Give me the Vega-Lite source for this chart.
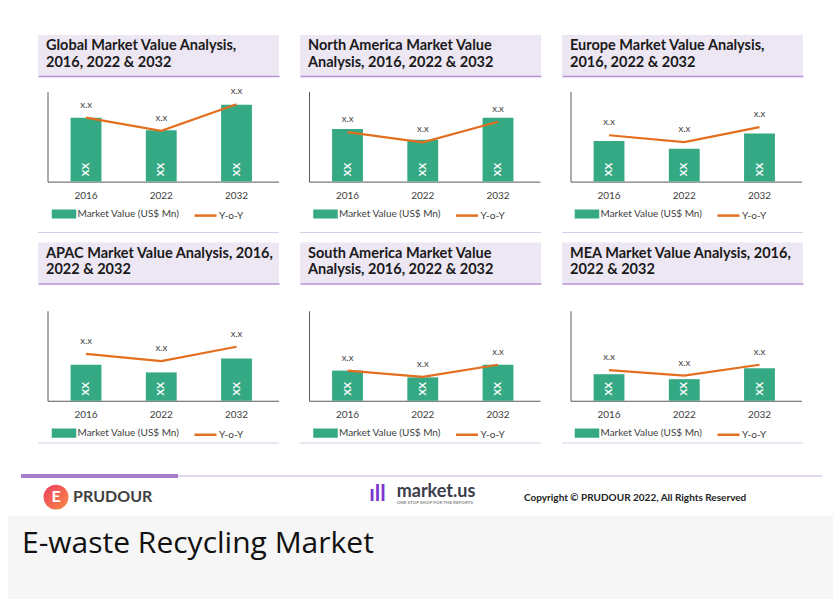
{
  "$schema": "https://vega.github.io/schema/vega-lite/v6.json",
  "background": "white",
  "padding": {"left": 8, "top": 35, "right": 3, "bottom": 1},
  "config": {"font": "Lato", "view": {"stroke": null}},
  "datasets": {
    "market": [
      {"region": "Global", "year": "2016", "value": 71, "yoy": 71, "valueLabel": "XX", "yoyLabel": "x.x"},
      {"region": "Global", "year": "2022", "value": 57, "yoy": 56.5, "valueLabel": "XX", "yoyLabel": "x.x"},
      {"region": "Global", "year": "2032", "value": 85.5, "yoy": 86, "valueLabel": "XX", "yoyLabel": "x.x"},
      {"region": "North America", "year": "2016", "value": 58.5, "yoy": 55, "valueLabel": "XX", "yoyLabel": "x.x"},
      {"region": "North America", "year": "2022", "value": 46.5, "yoy": 43.5, "valueLabel": "XX", "yoyLabel": "x.x"},
      {"region": "North America", "year": "2032", "value": 71, "yoy": 66.5, "valueLabel": "XX", "yoyLabel": "x.x"},
      {"region": "Europe", "year": "2016", "value": 45, "yoy": 51.5, "valueLabel": "XX", "yoyLabel": "x.x"},
      {"region": "Europe", "year": "2022", "value": 36.5, "yoy": 44, "valueLabel": "XX", "yoyLabel": "x.x"},
      {"region": "Europe", "year": "2032", "value": 53.5, "yoy": 60.5, "valueLabel": "XX", "yoyLabel": "x.x"},
      {"region": "APAC", "year": "2016", "value": 40, "yoy": 52, "valueLabel": "XX", "yoyLabel": "x.x"},
      {"region": "APAC", "year": "2022", "value": 31.5, "yoy": 44, "valueLabel": "XX", "yoyLabel": "x.x"},
      {"region": "APAC", "year": "2032", "value": 47, "yoy": 60, "valueLabel": "XX", "yoyLabel": "x.x"},
      {"region": "South America", "year": "2016", "value": 33.5, "yoy": 33.5, "valueLabel": "XX", "yoyLabel": "x.x"},
      {"region": "South America", "year": "2022", "value": 26, "yoy": 26.5, "valueLabel": "XX", "yoyLabel": "x.x"},
      {"region": "South America", "year": "2032", "value": 40, "yoy": 40, "valueLabel": "XX", "yoyLabel": "x.x"},
      {"region": "MEA", "year": "2016", "value": 29.5, "yoy": 34, "valueLabel": "XX", "yoyLabel": "x.x"},
      {"region": "MEA", "year": "2022", "value": 24, "yoy": 28, "valueLabel": "XX", "yoyLabel": "x.x"},
      {"region": "MEA", "year": "2032", "value": 36, "yoy": 40, "valueLabel": "XX", "yoyLabel": "x.x"}
    ],
    "panels": [
      {"region": "Global", "title": "Global Market Value Analysis,\n2016, 2022 & 2032"},
      {"region": "North America", "title": "North America Market Value\nAnalysis, 2016, 2022 & 2032"},
      {"region": "Europe", "title": "Europe Market Value Analysis,\n2016, 2022 & 2032"},
      {"region": "APAC", "title": "APAC Market Value Analysis, 2016,\n2022 & 2032"},
      {"region": "South America", "title": "South America Market Value\nAnalysis, 2016, 2022 & 2032"},
      {"region": "MEA", "title": "MEA Market Value Analysis, 2016,\n2022 & 2032"}
    ]
  },
  "spacing": 0,
  "vconcat": [
    {
      "spacing": 30,
      "vconcat": [
        {
          "spacing": 9.5,
          "vconcat": [
            {
              "spacing": 9,
              "vconcat": [
                {
                  "spacing": 9.6,
                  "vconcat": [
                    {
                      "bounds": "flush", "spacing": 21,
                      "hconcat": [
                        {"width": 9, "height": 1, "data": {"values": []}, "mark": "point"},
                        {"width": 241, "height": 41, "view": {"fill": "#ede6f3", "stroke": null}, "data": {"name": "panels"}, "transform": [{"filter": "datum.region === 'Global'"}],
                          "mark": {"type": "text", "align": "left", "baseline": "middle", "lineBreak": "\n", "lineHeight": 16.5, "fontWeight": "bold", "fontSize": 14.5, "color": "#1a1a1a", "dx": 8, "dy": -9.5},
                          "encoding": {"x": {"datum": 0, "type": "quantitative", "scale": {"domain": [0, 1]}, "axis": {"orient": "bottom", "title": null, "labels": false, "ticks": false, "grid": false, "domainColor": "#b592d4", "domainWidth": 1.5}}, "text": {"field": "title"}}},
                        {"width": 241, "height": 41, "view": {"fill": "#ede6f3", "stroke": null}, "data": {"name": "panels"}, "transform": [{"filter": "datum.region === 'North America'"}],
                          "mark": {"type": "text", "align": "left", "baseline": "middle", "lineBreak": "\n", "lineHeight": 16.5, "fontWeight": "bold", "fontSize": 14.5, "color": "#1a1a1a", "dx": 8, "dy": -9.5},
                          "encoding": {"x": {"datum": 0, "type": "quantitative", "scale": {"domain": [0, 1]}, "axis": {"orient": "bottom", "title": null, "labels": false, "ticks": false, "grid": false, "domainColor": "#b592d4", "domainWidth": 1.5}}, "text": {"field": "title"}}},
                        {"width": 241, "height": 41, "view": {"fill": "#ede6f3", "stroke": null}, "data": {"name": "panels"}, "transform": [{"filter": "datum.region === 'Europe'"}],
                          "mark": {"type": "text", "align": "left", "baseline": "middle", "lineBreak": "\n", "lineHeight": 16.5, "fontWeight": "bold", "fontSize": 14.5, "color": "#1a1a1a", "dx": 8, "dy": -9.5},
                          "encoding": {"x": {"datum": 0, "type": "quantitative", "scale": {"domain": [0, 1]}, "axis": {"orient": "bottom", "title": null, "labels": false, "ticks": false, "grid": false, "domainColor": "#b592d4", "domainWidth": 1.5}}, "text": {"field": "title"}}}
                      ]
                    },
                    {
                      "bounds": "flush", "spacing": 30.5,
                      "resolve": {"scale": {"color": "independent"}, "legend": {"color": "independent"}},
                      "hconcat": [
                        {"width": 8.5, "height": 1, "data": {"values": []}, "mark": "point"},
                        {"width": 231, "height": 90, "data": {"name": "market"}, "transform": [{"filter": "datum.region === 'Global'"}],
                          "encoding": {"x": {"field": "year", "type": "ordinal", "scale": {"paddingInner": 0.59, "paddingOuter": 0.33, "align": 0.465}, "axis": {"title": null, "labelAngle": 0, "ticks": false, "tickSize": 0, "labelPadding": 9, "labelFontSize": 10, "labelColor": "#404040", "domainColor": "#595959"}}},
                          "layer": [
                            {"mark": {"type": "bar"}, "encoding": {"y": {"field": "value", "type": "quantitative", "scale": {"domain": [0, 100]}, "axis": {"title": null, "labels": false, "ticks": false, "grid": false, "domainColor": "#595959"}},
                              "color": {"datum": "Market Value (US$ Mn)", "scale": {"domain": ["Market Value (US$ Mn)", "Y-o-Y"], "range": ["#35a884", "#e36f1e"]},
                                "legend": {"orient": "none", "legendX": 9.5, "legendY": 115, "direction": "horizontal", "title": null, "labelFontSize": 10, "labelColor": "#404040", "symbolSize": 121, "labelOffset": 6.5, "columnPadding": 9.5, "padding": 0,
                                  "encode": {"symbols": {"update": {"shape": {"signal": "datum.value === 'Y-o-Y' ? 'M-2,0H2' : 'M-2,-0.6H2V0.6H-2Z'"}, "fill": {"signal": "datum.value === 'Y-o-Y' ? 'transparent' : '#35a884'"}, "stroke": {"signal": "datum.value === 'Y-o-Y' ? '#e36f1e' : 'transparent'"}, "strokeWidth": {"value": 2.5}, "opacity": {"value": 1}}}}}}}},
                            {"mark": {"type": "text", "angle": 270, "dx": 12, "color": "white", "fontWeight": "bold", "fontSize": 10, "baseline": "middle", "align": "center"}, "encoding": {"y": {"datum": 0}, "text": {"field": "valueLabel"}}},
                            {"mark": {"type": "line", "strokeWidth": 2.25}, "encoding": {"y": {"field": "yoy", "type": "quantitative"}, "color": {"datum": "Y-o-Y"}}},
                            {"mark": {"type": "text", "dy": -13, "fontSize": 9.5, "color": "#404040"}, "encoding": {"y": {"field": "yoy", "type": "quantitative"}, "text": {"field": "yoyLabel"}}}
                          ]},
                        {"width": 231, "height": 90, "data": {"name": "market"}, "transform": [{"filter": "datum.region === 'North America'"}],
                          "encoding": {"x": {"field": "year", "type": "ordinal", "scale": {"paddingInner": 0.59, "paddingOuter": 0.33, "align": 0.465}, "axis": {"title": null, "labelAngle": 0, "ticks": false, "tickSize": 0, "labelPadding": 9, "labelFontSize": 10, "labelColor": "#404040", "domainColor": "#595959"}}},
                          "layer": [
                            {"mark": {"type": "bar"}, "encoding": {"y": {"field": "value", "type": "quantitative", "scale": {"domain": [0, 100]}, "axis": {"title": null, "labels": false, "ticks": false, "grid": false, "domainColor": "#595959"}},
                              "color": {"datum": "Market Value (US$ Mn)", "scale": {"domain": ["Market Value (US$ Mn)", "Y-o-Y"], "range": ["#35a884", "#e36f1e"]},
                                "legend": {"orient": "none", "legendX": 9.5, "legendY": 115, "direction": "horizontal", "title": null, "labelFontSize": 10, "labelColor": "#404040", "symbolSize": 121, "labelOffset": 6.5, "columnPadding": 9.5, "padding": 0,
                                  "encode": {"symbols": {"update": {"shape": {"signal": "datum.value === 'Y-o-Y' ? 'M-2,0H2' : 'M-2,-0.6H2V0.6H-2Z'"}, "fill": {"signal": "datum.value === 'Y-o-Y' ? 'transparent' : '#35a884'"}, "stroke": {"signal": "datum.value === 'Y-o-Y' ? '#e36f1e' : 'transparent'"}, "strokeWidth": {"value": 2.5}, "opacity": {"value": 1}}}}}}}},
                            {"mark": {"type": "text", "angle": 270, "dx": 12, "color": "white", "fontWeight": "bold", "fontSize": 10, "baseline": "middle", "align": "center"}, "encoding": {"y": {"datum": 0}, "text": {"field": "valueLabel"}}},
                            {"mark": {"type": "line", "strokeWidth": 2.25}, "encoding": {"y": {"field": "yoy", "type": "quantitative"}, "color": {"datum": "Y-o-Y"}}},
                            {"mark": {"type": "text", "dy": -13, "fontSize": 9.5, "color": "#404040"}, "encoding": {"y": {"field": "yoy", "type": "quantitative"}, "text": {"field": "yoyLabel"}}}
                          ]},
                        {"width": 231, "height": 90, "data": {"name": "market"}, "transform": [{"filter": "datum.region === 'Europe'"}],
                          "encoding": {"x": {"field": "year", "type": "ordinal", "scale": {"paddingInner": 0.59, "paddingOuter": 0.33, "align": 0.465}, "axis": {"title": null, "labelAngle": 0, "ticks": false, "tickSize": 0, "labelPadding": 9, "labelFontSize": 10, "labelColor": "#404040", "domainColor": "#595959"}}},
                          "layer": [
                            {"mark": {"type": "bar"}, "encoding": {"y": {"field": "value", "type": "quantitative", "scale": {"domain": [0, 100]}, "axis": {"title": null, "labels": false, "ticks": false, "grid": false, "domainColor": "#595959"}},
                              "color": {"datum": "Market Value (US$ Mn)", "scale": {"domain": ["Market Value (US$ Mn)", "Y-o-Y"], "range": ["#35a884", "#e36f1e"]},
                                "legend": {"orient": "none", "legendX": 9.5, "legendY": 115, "direction": "horizontal", "title": null, "labelFontSize": 10, "labelColor": "#404040", "symbolSize": 121, "labelOffset": 6.5, "columnPadding": 9.5, "padding": 0,
                                  "encode": {"symbols": {"update": {"shape": {"signal": "datum.value === 'Y-o-Y' ? 'M-2,0H2' : 'M-2,-0.6H2V0.6H-2Z'"}, "fill": {"signal": "datum.value === 'Y-o-Y' ? 'transparent' : '#35a884'"}, "stroke": {"signal": "datum.value === 'Y-o-Y' ? '#e36f1e' : 'transparent'"}, "strokeWidth": {"value": 2.5}, "opacity": {"value": 1}}}}}}}},
                            {"mark": {"type": "text", "angle": 270, "dx": 12, "color": "white", "fontWeight": "bold", "fontSize": 10, "baseline": "middle", "align": "center"}, "encoding": {"y": {"datum": 0}, "text": {"field": "valueLabel"}}},
                            {"mark": {"type": "line", "strokeWidth": 2.25}, "encoding": {"y": {"field": "yoy", "type": "quantitative"}, "color": {"datum": "Y-o-Y"}}},
                            {"mark": {"type": "text", "dy": -13, "fontSize": 9.5, "color": "#404040"}, "encoding": {"y": {"field": "yoy", "type": "quantitative"}, "text": {"field": "yoyLabel"}}}
                          ]}
                      ]
                    }
                  ]
                },
                {
                  "bounds": "flush", "spacing": 21,
                  "hconcat": [
                    {"width": 9, "height": 1, "data": {"values": []}, "mark": "point"},
                    {"width": 241, "height": 1, "view": {"fill": "#dccbe8", "stroke": null}, "data": {"values": []}, "mark": "point"},
                    {"width": 241, "height": 1, "view": {"fill": "#dccbe8", "stroke": null}, "data": {"values": []}, "mark": "point"},
                    {"width": 241, "height": 1, "view": {"fill": "#dccbe8", "stroke": null}, "data": {"values": []}, "mark": "point"}
                  ]
                }
              ]
            },
            {
              "spacing": -2,
              "vconcat": [
                {
                  "spacing": 27.25,
                  "vconcat": [
                    {
                      "bounds": "flush", "spacing": 21,
                      "hconcat": [
                        {"width": 9, "height": 1, "data": {"values": []}, "mark": "point"},
                        {"width": 241, "height": 41, "view": {"fill": "#ede6f3", "stroke": null}, "data": {"name": "panels"}, "transform": [{"filter": "datum.region === 'APAC'"}],
                          "mark": {"type": "text", "align": "left", "baseline": "middle", "lineBreak": "\n", "lineHeight": 16.5, "fontWeight": "bold", "fontSize": 14.5, "color": "#1a1a1a", "dx": 8, "dy": -9.5},
                          "encoding": {"x": {"datum": 0, "type": "quantitative", "scale": {"domain": [0, 1]}, "axis": {"orient": "bottom", "title": null, "labels": false, "ticks": false, "grid": false, "domainColor": "#b592d4", "domainWidth": 1.5}}, "text": {"field": "title"}}},
                        {"width": 241, "height": 41, "view": {"fill": "#ede6f3", "stroke": null}, "data": {"name": "panels"}, "transform": [{"filter": "datum.region === 'South America'"}],
                          "mark": {"type": "text", "align": "left", "baseline": "middle", "lineBreak": "\n", "lineHeight": 16.5, "fontWeight": "bold", "fontSize": 14.5, "color": "#1a1a1a", "dx": 8, "dy": -9.5},
                          "encoding": {"x": {"datum": 0, "type": "quantitative", "scale": {"domain": [0, 1]}, "axis": {"orient": "bottom", "title": null, "labels": false, "ticks": false, "grid": false, "domainColor": "#b592d4", "domainWidth": 1.5}}, "text": {"field": "title"}}},
                        {"width": 241, "height": 41, "view": {"fill": "#ede6f3", "stroke": null}, "data": {"name": "panels"}, "transform": [{"filter": "datum.region === 'MEA'"}],
                          "mark": {"type": "text", "align": "left", "baseline": "middle", "lineBreak": "\n", "lineHeight": 16.5, "fontWeight": "bold", "fontSize": 14.5, "color": "#1a1a1a", "dx": 8, "dy": -9.5},
                          "encoding": {"x": {"datum": 0, "type": "quantitative", "scale": {"domain": [0, 1]}, "axis": {"orient": "bottom", "title": null, "labels": false, "ticks": false, "grid": false, "domainColor": "#b592d4", "domainWidth": 1.5}}, "text": {"field": "title"}}}
                      ]
                    },
                    {
                      "bounds": "flush", "spacing": 30.5,
                      "resolve": {"scale": {"color": "independent"}, "legend": {"color": "independent"}},
                      "hconcat": [
                        {"width": 8.5, "height": 1, "data": {"values": []}, "mark": "point"},
                        {"width": 231, "height": 90, "data": {"name": "market"}, "transform": [{"filter": "datum.region === 'APAC'"}],
                          "encoding": {"x": {"field": "year", "type": "ordinal", "scale": {"paddingInner": 0.59, "paddingOuter": 0.33, "align": 0.465}, "axis": {"title": null, "labelAngle": 0, "ticks": false, "tickSize": 0, "labelPadding": 9, "labelFontSize": 10, "labelColor": "#404040", "domainColor": "#595959"}}},
                          "layer": [
                            {"mark": {"type": "bar"}, "encoding": {"y": {"field": "value", "type": "quantitative", "scale": {"domain": [0, 100]}, "axis": {"title": null, "labels": false, "ticks": false, "grid": false, "domainColor": "#595959"}},
                              "color": {"datum": "Market Value (US$ Mn)", "scale": {"domain": ["Market Value (US$ Mn)", "Y-o-Y"], "range": ["#35a884", "#e36f1e"]},
                                "legend": {"orient": "none", "legendX": 9.5, "legendY": 115, "direction": "horizontal", "title": null, "labelFontSize": 10, "labelColor": "#404040", "symbolSize": 121, "labelOffset": 6.5, "columnPadding": 9.5, "padding": 0,
                                  "encode": {"symbols": {"update": {"shape": {"signal": "datum.value === 'Y-o-Y' ? 'M-2,0H2' : 'M-2,-0.6H2V0.6H-2Z'"}, "fill": {"signal": "datum.value === 'Y-o-Y' ? 'transparent' : '#35a884'"}, "stroke": {"signal": "datum.value === 'Y-o-Y' ? '#e36f1e' : 'transparent'"}, "strokeWidth": {"value": 2.5}, "opacity": {"value": 1}}}}}}}},
                            {"mark": {"type": "text", "angle": 270, "dx": 12, "color": "white", "fontWeight": "bold", "fontSize": 10, "baseline": "middle", "align": "center"}, "encoding": {"y": {"datum": 0}, "text": {"field": "valueLabel"}}},
                            {"mark": {"type": "line", "strokeWidth": 2.25}, "encoding": {"y": {"field": "yoy", "type": "quantitative"}, "color": {"datum": "Y-o-Y"}}},
                            {"mark": {"type": "text", "dy": -13, "fontSize": 9.5, "color": "#404040"}, "encoding": {"y": {"field": "yoy", "type": "quantitative"}, "text": {"field": "yoyLabel"}}}
                          ]},
                        {"width": 231, "height": 90, "data": {"name": "market"}, "transform": [{"filter": "datum.region === 'South America'"}],
                          "encoding": {"x": {"field": "year", "type": "ordinal", "scale": {"paddingInner": 0.59, "paddingOuter": 0.33, "align": 0.465}, "axis": {"title": null, "labelAngle": 0, "ticks": false, "tickSize": 0, "labelPadding": 9, "labelFontSize": 10, "labelColor": "#404040", "domainColor": "#595959"}}},
                          "layer": [
                            {"mark": {"type": "bar"}, "encoding": {"y": {"field": "value", "type": "quantitative", "scale": {"domain": [0, 100]}, "axis": {"title": null, "labels": false, "ticks": false, "grid": false, "domainColor": "#595959"}},
                              "color": {"datum": "Market Value (US$ Mn)", "scale": {"domain": ["Market Value (US$ Mn)", "Y-o-Y"], "range": ["#35a884", "#e36f1e"]},
                                "legend": {"orient": "none", "legendX": 9.5, "legendY": 115, "direction": "horizontal", "title": null, "labelFontSize": 10, "labelColor": "#404040", "symbolSize": 121, "labelOffset": 6.5, "columnPadding": 9.5, "padding": 0,
                                  "encode": {"symbols": {"update": {"shape": {"signal": "datum.value === 'Y-o-Y' ? 'M-2,0H2' : 'M-2,-0.6H2V0.6H-2Z'"}, "fill": {"signal": "datum.value === 'Y-o-Y' ? 'transparent' : '#35a884'"}, "stroke": {"signal": "datum.value === 'Y-o-Y' ? '#e36f1e' : 'transparent'"}, "strokeWidth": {"value": 2.5}, "opacity": {"value": 1}}}}}}}},
                            {"mark": {"type": "text", "angle": 270, "dx": 12, "color": "white", "fontWeight": "bold", "fontSize": 10, "baseline": "middle", "align": "center"}, "encoding": {"y": {"datum": 0}, "text": {"field": "valueLabel"}}},
                            {"mark": {"type": "line", "strokeWidth": 2.25}, "encoding": {"y": {"field": "yoy", "type": "quantitative"}, "color": {"datum": "Y-o-Y"}}},
                            {"mark": {"type": "text", "dy": -13, "fontSize": 9.5, "color": "#404040"}, "encoding": {"y": {"field": "yoy", "type": "quantitative"}, "text": {"field": "yoyLabel"}}}
                          ]},
                        {"width": 231, "height": 90, "data": {"name": "market"}, "transform": [{"filter": "datum.region === 'MEA'"}],
                          "encoding": {"x": {"field": "year", "type": "ordinal", "scale": {"paddingInner": 0.59, "paddingOuter": 0.33, "align": 0.465}, "axis": {"title": null, "labelAngle": 0, "ticks": false, "tickSize": 0, "labelPadding": 9, "labelFontSize": 10, "labelColor": "#404040", "domainColor": "#595959"}}},
                          "layer": [
                            {"mark": {"type": "bar"}, "encoding": {"y": {"field": "value", "type": "quantitative", "scale": {"domain": [0, 100]}, "axis": {"title": null, "labels": false, "ticks": false, "grid": false, "domainColor": "#595959"}},
                              "color": {"datum": "Market Value (US$ Mn)", "scale": {"domain": ["Market Value (US$ Mn)", "Y-o-Y"], "range": ["#35a884", "#e36f1e"]},
                                "legend": {"orient": "none", "legendX": 9.5, "legendY": 115, "direction": "horizontal", "title": null, "labelFontSize": 10, "labelColor": "#404040", "symbolSize": 121, "labelOffset": 6.5, "columnPadding": 9.5, "padding": 0,
                                  "encode": {"symbols": {"update": {"shape": {"signal": "datum.value === 'Y-o-Y' ? 'M-2,0H2' : 'M-2,-0.6H2V0.6H-2Z'"}, "fill": {"signal": "datum.value === 'Y-o-Y' ? 'transparent' : '#35a884'"}, "stroke": {"signal": "datum.value === 'Y-o-Y' ? '#e36f1e' : 'transparent'"}, "strokeWidth": {"value": 2.5}, "opacity": {"value": 1}}}}}}}},
                            {"mark": {"type": "text", "angle": 270, "dx": 12, "color": "white", "fontWeight": "bold", "fontSize": 10, "baseline": "middle", "align": "center"}, "encoding": {"y": {"datum": 0}, "text": {"field": "valueLabel"}}},
                            {"mark": {"type": "line", "strokeWidth": 2.25}, "encoding": {"y": {"field": "yoy", "type": "quantitative"}, "color": {"datum": "Y-o-Y"}}},
                            {"mark": {"type": "text", "dy": -13, "fontSize": 9.5, "color": "#404040"}, "encoding": {"y": {"field": "yoy", "type": "quantitative"}, "text": {"field": "yoyLabel"}}}
                          ]}
                      ]
                    }
                  ]
                },
                {
                  "bounds": "flush", "spacing": 21,
                  "hconcat": [
                    {"width": 9, "height": 1, "data": {"values": []}, "mark": "point"},
                    {"width": 241, "height": 1, "view": {"fill": "#dccbe8", "stroke": null}, "data": {"values": []}, "mark": "point"},
                    {"width": 241, "height": 1, "view": {"fill": "#dccbe8", "stroke": null}, "data": {"values": []}, "mark": "point"},
                    {"width": 241, "height": 1, "view": {"fill": "#dccbe8", "stroke": null}, "data": {"values": []}, "mark": "point"}
                  ]
                }
              ]
            }
          ]
        },
        {
          "bounds": "flush", "spacing": 0,
          "hconcat": [
            {"width": 13, "height": 1, "data": {"values": []}, "mark": "point"},
            {"width": 801, "height": 42, "view": {"stroke": null}, "data": {"values": [{}]},
              "layer": [
                {"mark": {"type": "rule", "color": "#d9c8ea", "strokeWidth": 1.5}, "encoding": {"x": {"datum": 0, "type": "quantitative", "scale": {"domain": [0, 1]}, "axis": null}, "x2": {"datum": 1}, "y": {"datum": 0.952, "type": "quantitative", "scale": {"domain": [0, 1]}, "axis": null}}},
                {"mark": {"type": "rule", "color": "#a77dcc", "strokeWidth": 4}, "encoding": {"x": {"datum": 0, "type": "quantitative"}, "x2": {"datum": 0.196}, "y": {"datum": 0.952, "type": "quantitative"}}},
                {"mark": {"type": "point", "shape": "circle", "filled": true, "size": 620, "opacity": 1, "fill": {"gradient": "linear", "x1": 0, "y1": 0, "x2": 1, "y2": 1, "stops": [{"offset": 0, "color": "#ef3e62"}, {"offset": 1, "color": "#f88a45"}]}}, "encoding": {"x": {"datum": 0.0437, "type": "quantitative"}, "y": {"datum": 0.45, "type": "quantitative"}}},
                {"mark": {"type": "text", "text": "E", "color": "white", "fontWeight": "bold", "fontSize": 16, "align": "center", "baseline": "middle"}, "encoding": {"x": {"datum": 0.0437, "type": "quantitative"}, "y": {"datum": 0.45, "type": "quantitative"}}},
                {"mark": {"type": "text", "text": "PRUDOUR", "color": "#404040", "fontWeight": "bold", "fontSize": 16, "align": "left", "baseline": "middle"}, "encoding": {"x": {"datum": 0.065, "type": "quantitative"}, "y": {"datum": 0.45, "type": "quantitative"}}},
                {"mark": {"type": "text", "text": "ıll", "color": "#7b35d0", "fontWeight": "bold", "fontSize": 22, "align": "center", "baseline": "middle"}, "encoding": {"x": {"datum": 0.445, "type": "quantitative"}, "y": {"datum": 0.52, "type": "quantitative"}}},
                {"mark": {"type": "text", "text": "market.us", "color": "#3d3c4c", "fontWeight": "bold", "fontSize": 18, "align": "left", "baseline": "middle"}, "encoding": {"x": {"datum": 0.469, "type": "quantitative"}, "y": {"datum": 0.58, "type": "quantitative"}}},
                {"mark": {"type": "text", "text": "ONE STOP SHOP FOR THE REPORTS", "color": "#8a8a8a", "fontWeight": "bold", "fontSize": 4.5, "align": "left", "baseline": "middle"}, "encoding": {"x": {"datum": 0.469, "type": "quantitative"}, "y": {"datum": 0.3, "type": "quantitative"}}},
                {"mark": {"type": "text", "text": "Copyright © PRUDOUR 2022, All Rights Reserved", "color": "#222222", "fontWeight": "bold", "fontSize": 10, "align": "left", "baseline": "middle"}, "encoding": {"x": {"datum": 0.628, "type": "quantitative"}, "y": {"datum": 0.43, "type": "quantitative"}}}
              ]}
          ]
        }
      ]
    },
    {"width": 825, "height": 83, "view": {"fill": "#f6f6f6", "stroke": null}, "data": {"values": [{}]},
      "mark": {"type": "text", "text": "E-waste Recycling Market", "font": "Open Sans", "fontSize": 30, "align": "left", "baseline": "alphabetic", "dx": 14, "dy": -4.5, "color": "#111111"},
      "encoding": {"x": {"datum": 0, "type": "quantitative", "scale": {"domain": [0, 1]}, "axis": null}}}
  ]
}
